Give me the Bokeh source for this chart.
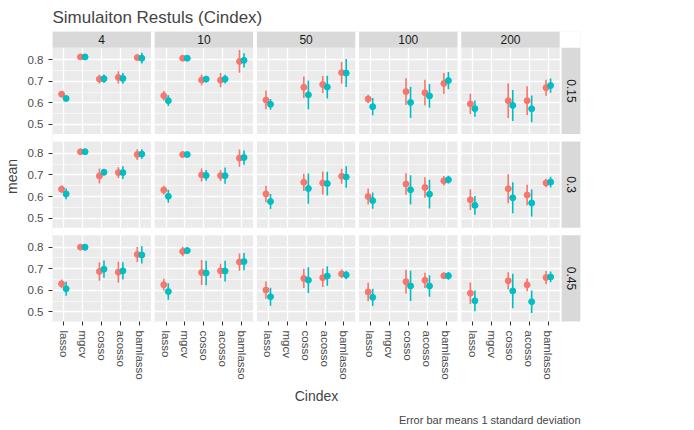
import numpy as np
from bokeh.plotting import figure
from bokeh.models import (ColumnDataSource, FixedTicker, Legend, LegendItem, Title)
from bokeh.core.properties import value
from bokeh.embed import file_html
from bokeh.resources import INLINE

methods = ["lasso", "mgcv", "cosso", "acosso", "bamlasso"]
ps = ["4", "10", "50", "100", "200"]
ss = ["0.15", "0.3", "0.45"]

# mean / sd per [row s][column p][method]; None = not run
mean_rho0 = [
    [[.640, .813, .710, .718, .810], [.633, .807, .706, .705, .792], [.613, None, .672, .685, .740],
     [.618, None, .652, .647, .690], [.595, None, .610, .610, .670]],
    [[.634, .808, .695, .711, .795], [.630, .795, .700, .697, .778], [.612, None, .666, .663, .694],
     [.600, None, .658, .642, .673], [.585, None, .636, .607, .663]],
    [[.630, .800, .687, .684, .766], [.626, .780, .682, .690, .731], [.601, None, .655, .658, .676],
     [.592, None, .640, .646, .667], [.586, None, .644, .625, .659]],
]
sd_rho0 = [
    [[.010, .005, .020, .028, .010], [.022, .005, .025, .033, .053], [.043, None, .050, .040, .050],
     [.020, None, .062, .060, .048], [.047, None, .080, .067, .037]],
    [[.017, .006, .035, .025, .025], [.020, .010, .030, .025, .040], [.038, None, .040, .053, .035],
     [.037, None, .050, .048, .022], [.048, None, .067, .048, .020]],
    [[.020, .012, .043, .048, .035], [.027, .022, .058, .033, .040], [.040, None, .045, .043, .020],
     [.043, None, .055, .035, .015], [.050, None, .040, .030, .030]],
]
mean_rho5 = [
    [[.620, .813, .712, .713, .807], [.610, .807, .710, .710, .797], [.593, None, .637, .673, .738],
     [.582, None, .602, .632, .703], [.573, None, .588, .572, .680]],
    [[.612, .808, .713, .711, .797], [.601, .795, .698, .697, .781], [.577, None, .637, .660, .691],
     [.581, None, .631, .611, .678], [.559, None, .594, .570, .667]],
    [[.607, .800, .698, .690, .764], [.594, .784, .680, .689, .733], [.570, None, .647, .666, .671],
     [.567, None, .620, .620, .667], [.551, None, .597, .547, .662]],
]
sd_rho5 = [
    [[.008, .005, .020, .025, .025], [.025, .005, .015, .020, .033], [.025, None, .067, .053, .065],
     [.040, None, .072, .055, .040], [.038, None, .072, .062, .033]],
    [[.025, .006, .015, .030, .022], [.030, .010, .025, .038, .033], [.035, None, .070, .055, .050],
     [.038, None, .068, .067, .018], [.043, None, .072, .063, .025]],
    [[.033, .015, .040, .040, .040], [.038, .015, .057, .048, .040], [.042, None, .060, .045, .020],
     [.040, None, .070, .050, .018], [.048, None, .080, .052, .025]],
]
y_ticks = [0.5, 0.6, 0.7, 0.8]

RED, TEAL = "#F8766D", "#00BFC4"
STEP_X, STEP_Y = 5.4, 0.435
Y_LO, Y_HI = 0.455, 0.855
DODGE = 0.12
FONT = "Liberation Sans"

x_end = 4 * STEP_X + 5.6
x_max = x_end + 1.1
y_min = Y_LO - 2 * STEP_Y
y_max = Y_HI + 0.076

p = figure(frame_width=528, frame_height=290, x_range=(0.4, x_max), y_range=(y_min, y_max),
           output_backend="svg", toolbar_location=None, background_fill_color="#EBEBEB",
           border_fill_color="white", outline_line_color=None, min_border_left=10,
           min_border_right=5)
p.title.text = "Simulaiton Restuls (Cindex)"
p.title.text_font = FONT
p.title.text_font_size = "17px"
p.title.text_font_style = "normal"

# ticks
xt, xlab = [], {}
for c in range(5):
    for k, m in enumerate(methods):
        x = round(c * STEP_X + k + 1, 4)
        xt.append(x)
        xlab[x] = m
yt, ylab, ymin = [], {}, []
for r in range(3):
    for v in y_ticks:
        y = round(v - r * STEP_Y, 4)
        yt.append(y)
        ylab[y] = "%.1f" % v
    for v in [0.55, 0.65, 0.75]:
        ymin.append(round(v - r * STEP_Y, 4))
p.xaxis.ticker = FixedTicker(ticks=xt)
p.xaxis.major_label_overrides = xlab
p.xaxis.major_label_orientation = "vertical"
p.yaxis.ticker = FixedTicker(ticks=yt, minor_ticks=ymin)
p.yaxis.major_label_overrides = ylab
p.xgrid.ticker = FixedTicker(ticks=xt)
p.ygrid.ticker = FixedTicker(ticks=yt, minor_ticks=ymin)
for g in (p.xgrid, p.ygrid):
    g.grid_line_color = "white"
    g.grid_line_width = 1.3
p.ygrid.minor_grid_line_color = "white"
p.ygrid.minor_grid_line_width = 0.6
for ax in (p.xaxis, p.yaxis):
    ax.axis_line_color = None
    ax.minor_tick_line_color = None
    ax.major_tick_line_color = "#333333"
    ax.major_tick_in = 0
    ax.major_tick_out = 4
    ax.major_label_text_font = FONT
    ax.major_label_text_font_size = "11.5px"
    ax.major_label_text_color = "#4D4D4D"
    ax.axis_label_text_font = FONT
    ax.axis_label_text_font_size = "14px"
    ax.axis_label_text_font_style = "normal"
p.xaxis.axis_label = "Cindex"
p.yaxis.axis_label = "mean"

# white gaps between panels
gl, gr, gb, gt = [], [], [], []
for c in range(4):
    gl.append(c * STEP_X + 5.6); gr.append((c + 1) * STEP_X + 0.4); gb.append(y_min); gt.append(y_max)
for r in range(2):
    gl.append(0.4); gr.append(x_max); gb.append(Y_HI - (r + 1) * STEP_Y); gt.append(Y_LO - r * STEP_Y)
gl += [x_end, 0.4]; gr += [x_max, x_max]; gb += [y_min, Y_HI]; gt += [y_max, y_max]
p.quad(left=gl, right=gr, bottom=gb, top=gt, fill_color="white", line_color=None)

# strips
sl = [c * STEP_X + 0.4 for c in range(5)]
p.quad(left=sl, right=[c * STEP_X + 5.6 for c in range(5)], bottom=Y_HI, top=y_max,
       fill_color="#D9D9D9", line_color=None)
p.text(x=[c * STEP_X + 3 for c in range(5)], y=(Y_HI + y_max) / 2, text=ps,
       text_align="center", text_baseline="middle", text_font=value(FONT),
       text_font_size="12px", text_color="#1A1A1A")
rb = [Y_LO - r * STEP_Y for r in range(3)]
p.quad(left=x_end + 0.1, right=x_max, bottom=rb, top=[Y_HI - r * STEP_Y for r in range(3)],
       fill_color="#D9D9D9", line_color=None)
p.text(x=x_end + 0.1 + (x_max - x_end - 0.1) / 2, y=[(Y_LO + Y_HI) / 2 - r * STEP_Y for r in range(3)],
       text=ss, angle=-np.pi / 2, text_align="center", text_baseline="middle",
       text_font=value(FONT), text_font_size="12px", text_color="#1A1A1A")

# data
items = []
for means, sds, col, off, lab in [(mean_rho0, sd_rho0, RED, -DODGE, "0"),
                                  (mean_rho5, sd_rho5, TEAL, DODGE, "0.5")]:
    xs, ys, lo, hi = [], [], [], []
    for r in range(3):
        for c in range(5):
            for k in range(5):
                m = means[r][c][k]
                if m is None:
                    continue
                s = sds[r][c][k]
                xs.append(c * STEP_X + k + 1 + off)
                ys.append(m - r * STEP_Y)
                lo.append(m - s - r * STEP_Y)
                hi.append(m + s - r * STEP_Y)
    src = ColumnDataSource(dict(x=xs, y=ys, lo=lo, hi=hi))
    seg = p.segment(x0="x", x1="x", y0="lo", y1="hi", source=src, line_color=col, line_width=1.6)
    pt = p.scatter("x", "y", source=src, size=6, fill_color=col, line_color=col)
    items.append(LegendItem(label=lab, renderers=[seg, pt]))

legend = Legend(items=items, title="rho", location="center", border_line_color=None,
                background_fill_alpha=0, label_text_font=FONT, label_text_font_size="11px",
                title_text_font=FONT, title_text_font_size="14px", title_text_font_style="normal",
                inactive_fill_alpha=0, glyph_width=16, glyph_height=16, spacing=2,
                padding=6, margin=4)
p.add_layout(legend, "right")

p.add_layout(Title(text="Error bar means 1 standard deviation", align="right",
                   text_font=FONT, text_font_size="11px", text_font_style="normal"), "below")

open("out.html", "w").write(file_html(p, INLINE))
